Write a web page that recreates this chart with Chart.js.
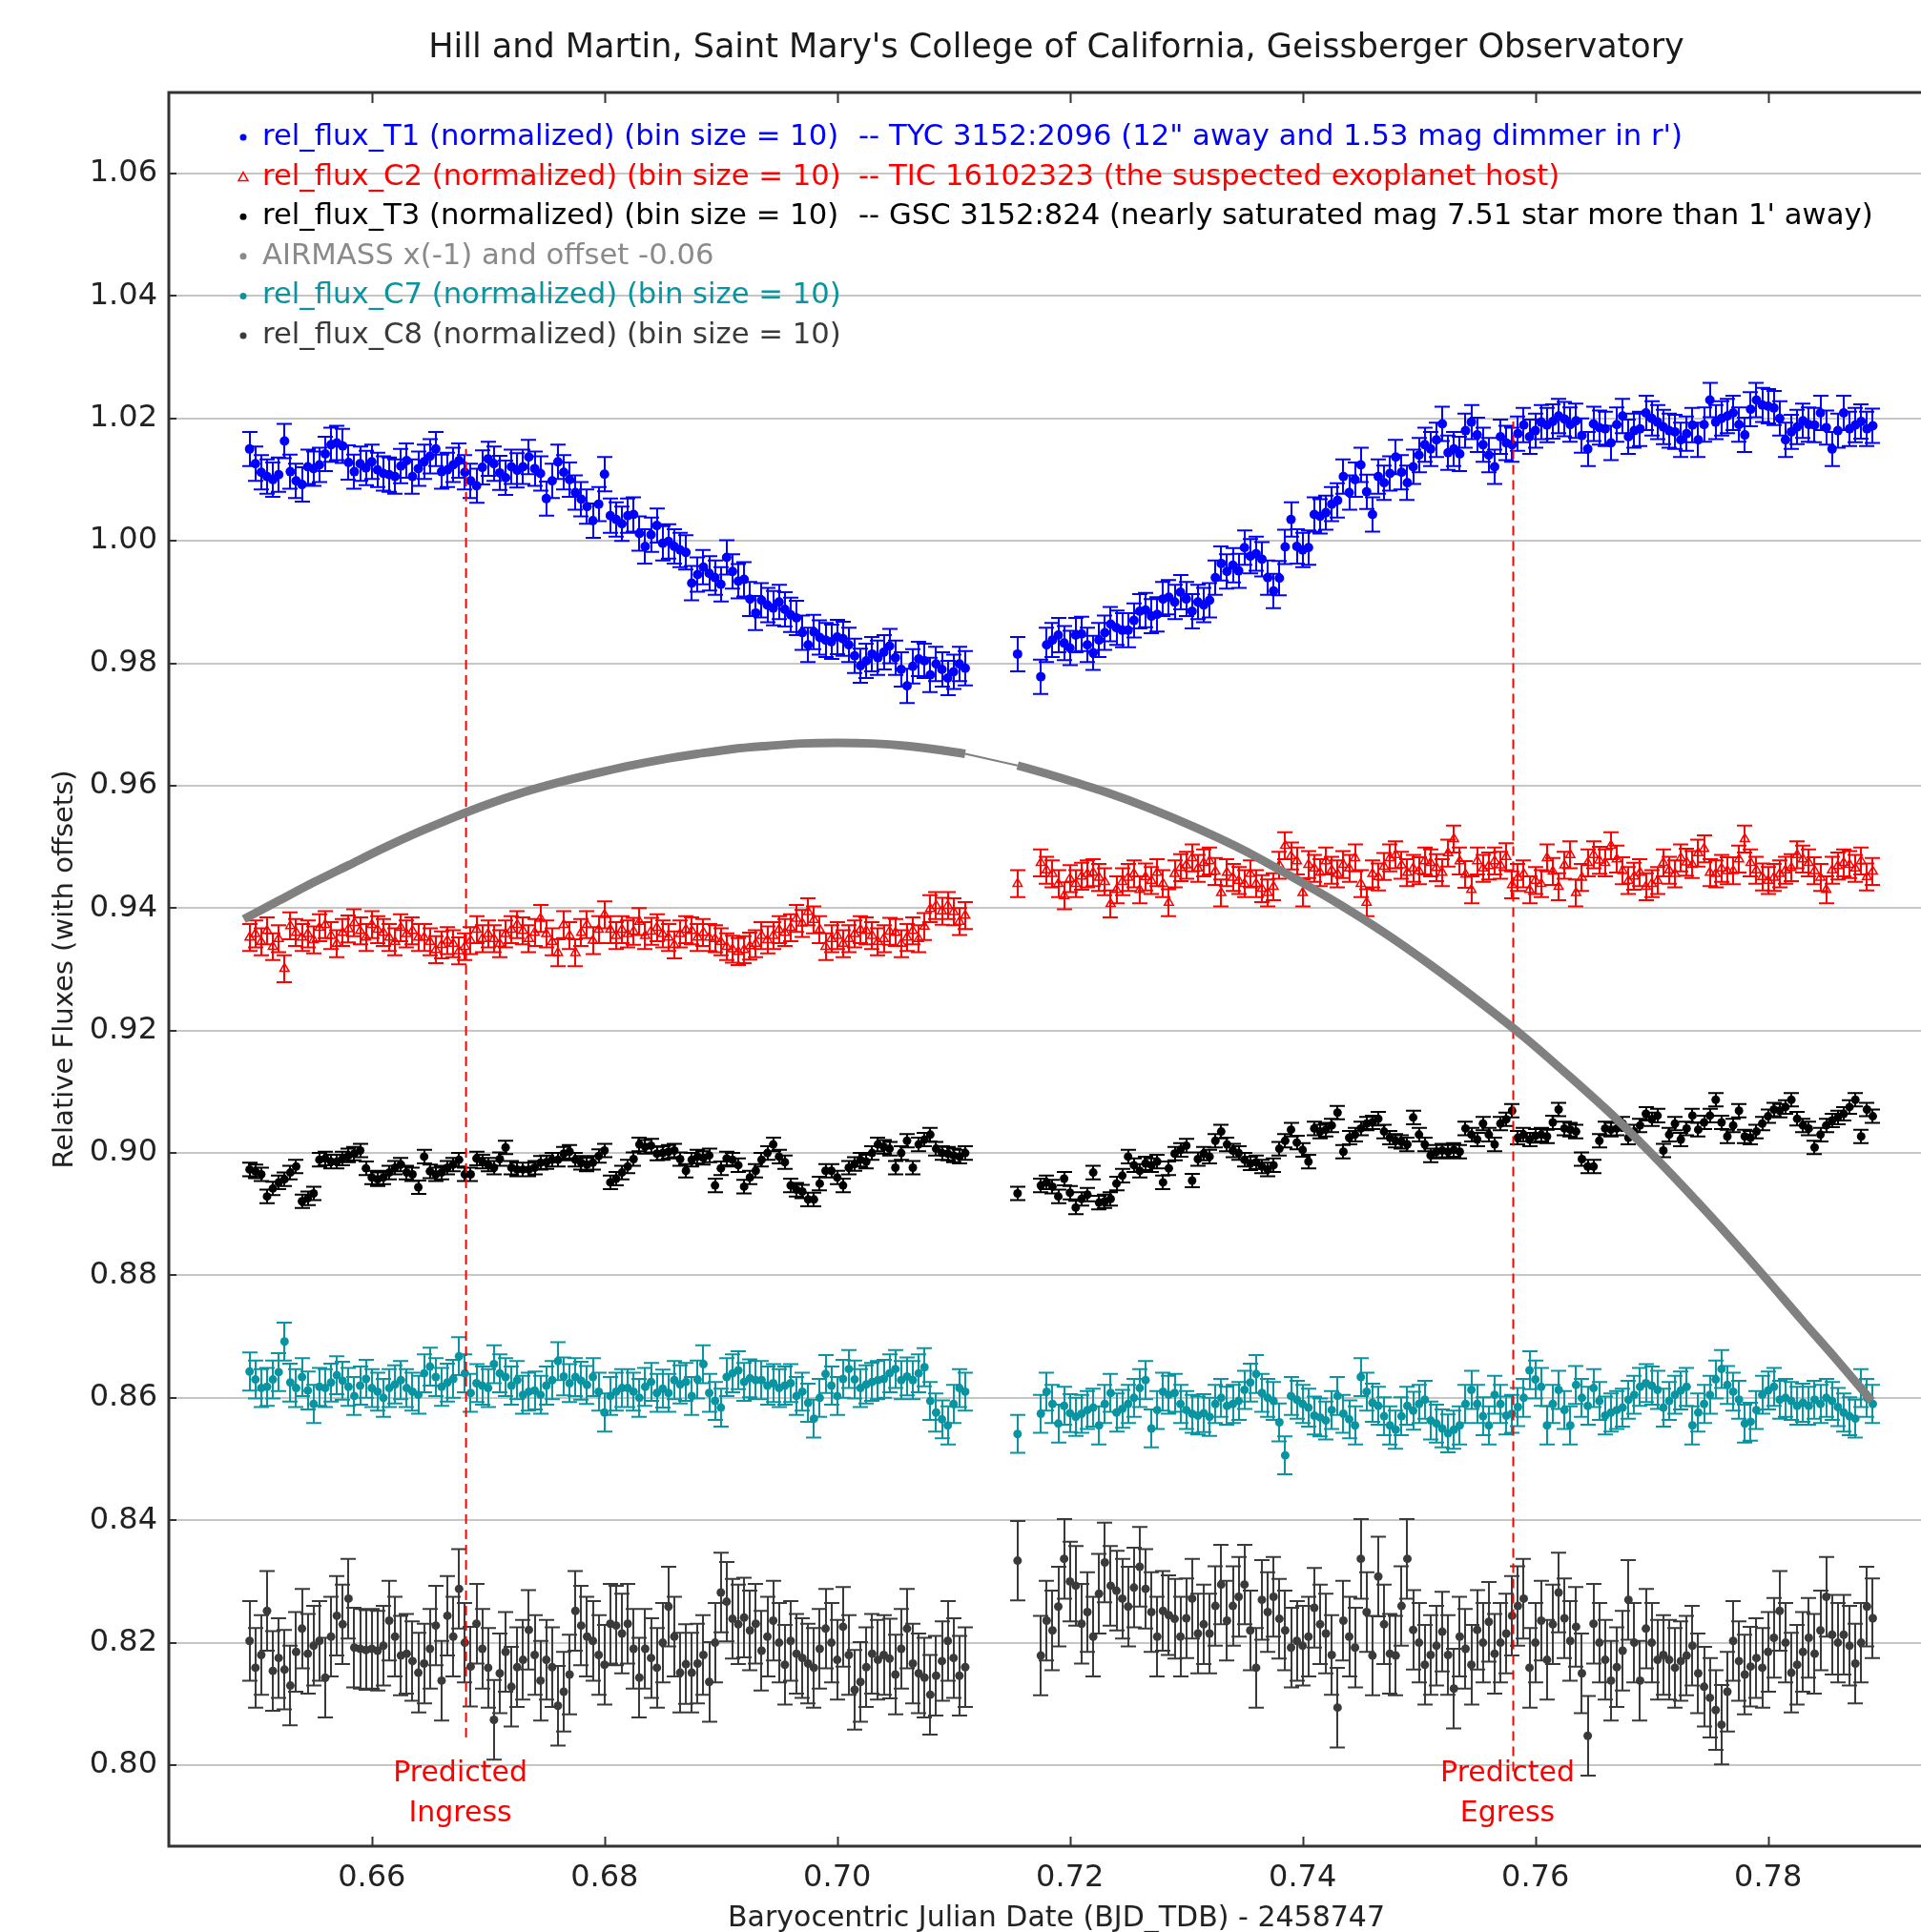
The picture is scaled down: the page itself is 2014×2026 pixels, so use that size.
<!DOCTYPE html>
<html>
<head>
<meta charset="utf-8">
<title>Light curves</title>
<script src="https://cdn.jsdelivr.net/npm/chart.js@4.4.1/dist/chart.umd.min.js"></script>
<style>
  html, body { margin: 0; padding: 0; background: #fff; overflow: hidden; }
  #wrap { width: 2014px; height: 2026px; overflow: hidden; }
  canvas { display: block; }
</style>
</head>
<body>
<div id="wrap"><canvas id="lc" width="2045" height="2026"></canvas></div>
<script>
// bin times, BJD_TDB - 2458747 (first run, then second run after the break)
const times = [
  0.6495,0.65,0.6505,0.651,0.6515,0.652,0.6525,0.653,0.6535,0.654,
  0.6545,0.655,0.6555,0.656,0.6565,0.657,0.6575,0.658,0.6585,0.659,
  0.6595,0.66,0.6605,0.661,0.6615,0.662,0.6625,0.663,0.6635,0.664,
  0.6645,0.665,0.6655,0.666,0.6665,0.667,0.6675,0.668,0.6685,0.669,
  0.6695,0.67,0.6705,0.671,0.6715,0.672,0.6725,0.673,0.6735,0.674,
  0.6745,0.675,0.6755,0.676,0.6765,0.677,0.6775,0.678,0.6785,0.679,
  0.6795,0.68,0.6805,0.681,0.6815,0.682,0.6825,0.683,0.6835,0.684,
  0.6845,0.685,0.6855,0.686,0.6865,0.687,0.6875,0.688,0.6885,0.689,
  0.6895,0.69,0.6905,0.691,0.6915,0.692,0.6925,0.693,0.6935,0.694,
  0.6945,0.695,0.6955,0.696,0.6965,0.697,0.6975,0.698,0.6985,0.699,
  0.6995,0.7,0.7005,0.701,0.7015,0.702,0.7025,0.703,0.7035,0.704,
  0.7045,0.705,0.7055,0.706,0.7065,0.707,0.7075,0.708,0.7085,0.709,
  0.7095,0.71,0.7105,0.711,
  // second run
  0.7155,0.716,0.7165,0.717,0.7175,0.718,0.7185,0.719,0.7195,0.72,
  0.7205,0.721,0.7215,0.722,0.7225,0.723,0.7235,0.724,0.7245,0.725,
  0.7255,0.726,0.7265,0.727,0.7275,0.728,0.7285,0.729,0.7295,0.73,
  0.7305,0.731,0.7315,0.732,0.7325,0.733,0.7335,0.734,0.7345,0.735,
  0.7355,0.736,0.7365,0.737,0.7375,0.738,0.7385,0.739,0.7395,0.74,
  0.7405,0.741,0.7415,0.742,0.7425,0.743,0.7435,0.744,0.7445,0.745,
  0.7455,0.746,0.7465,0.747,0.7475,0.748,0.7485,0.749,0.7495,0.75,
  0.7505,0.751,0.7515,0.752,0.7525,0.753,0.7535,0.754,0.7545,0.755,
  0.7555,0.756,0.7565,0.757,0.7575,0.758,0.7585,0.759,0.7595,0.76,
  0.7605,0.761,0.7615,0.762,0.7625,0.763,0.7635,0.764,0.7645,0.765,
  0.7655,0.766,0.7665,0.767,0.7675,0.768,0.7685,0.769,0.7695,0.77,
  0.7705,0.771,0.7715,0.772,0.7725,0.773,0.7735,0.774,0.7745,0.775,
  0.7755,0.776,0.7765,0.777,0.7775,0.778,0.7785,0.779,0.7795,0.78,
  0.7805,0.781,0.7815,0.782,0.7825,0.783,0.7835,0.784,0.7845,0.785,
  0.7855,0.786,0.7865,0.787,0.7875,0.788,0.7885,0.789
];

const t1Flux = [
  1.0150,1.0126,1.0112,1.0105,1.0100,1.0108,1.0163,1.0113,1.0098,1.0092,
  1.0121,1.0118,1.0124,1.0142,1.0157,1.0160,1.0155,1.0128,1.0113,1.0126,
  1.0119,1.0129,1.0116,1.0110,1.0108,1.0105,1.0122,1.0131,1.0105,1.0118,
  1.0129,1.0138,1.0150,1.0113,1.0116,1.0124,1.0131,1.0112,1.0098,1.0090,
  1.0120,1.0134,1.0126,1.0111,1.0103,1.0121,1.0115,1.0121,1.0137,1.0118,
  1.0110,1.0069,1.0098,1.0129,1.0112,1.0100,1.0079,1.0068,1.0056,1.0033,
  1.0060,1.0109,1.0041,1.0035,1.0028,1.0041,1.0043,1.0012,0.9991,1.0010,
  1.0025,0.9996,0.9999,0.9991,0.9985,0.9981,0.9931,0.9945,0.9957,0.9947,
  0.9940,0.9929,0.9973,0.9950,0.9934,0.9937,0.9905,0.9882,0.9903,0.9895,
  0.9890,0.9900,0.9888,0.9879,0.9874,0.9850,0.9830,0.9851,0.9842,0.9838,
  0.9835,0.9843,0.9840,0.9830,0.9812,0.9796,0.9804,0.9815,0.9809,0.9818,
  0.9828,0.9809,0.9790,0.9763,0.9795,0.9807,0.9804,0.9781,0.9799,0.9790,
  0.9776,0.9786,0.9799,0.9792,
  0.9815,null,null,null,0.9778,0.9830,0.9838,0.9846,0.9833,0.9825,
  0.9846,0.9848,0.9830,0.9817,0.9838,0.9850,0.9864,0.9858,0.9854,0.9854,
  0.9870,0.9885,0.9887,0.9877,0.9880,0.9905,0.9908,0.9900,0.9916,0.9905,
  0.9885,0.9900,0.9895,0.9903,0.9940,0.9963,0.9950,0.9960,0.9951,0.9989,
  0.9975,0.9979,0.9970,0.9940,0.9918,0.9939,0.9990,1.0035,0.9991,0.9985,
  0.9989,1.0043,1.0040,1.0046,1.0060,1.0066,1.0105,1.0079,1.0100,1.0124,
  1.0080,1.0043,1.0105,1.0095,1.0110,1.0137,1.0112,1.0095,1.0121,1.0140,
  1.0157,1.0150,1.0165,1.0191,1.0144,1.0150,1.0142,1.0180,1.0194,1.0173,
  1.0157,1.0140,1.0121,1.0170,1.0160,1.0157,1.0175,1.0189,1.0170,1.0180,
  1.0194,1.0189,1.0195,1.0204,1.0199,1.0190,1.0196,1.0172,1.0150,1.0191,
  1.0185,1.0183,1.0160,1.0190,1.0204,1.0170,1.0180,1.0183,1.0209,1.0200,
  1.0194,1.0186,1.0180,1.0178,1.0165,1.0175,1.0189,1.0165,1.0190,1.0230,
  1.0194,1.0200,1.0204,1.0209,1.0190,1.0173,1.0215,1.0230,1.0222,1.0220,
  1.0217,1.0200,1.0165,1.0178,1.0186,1.0196,1.0190,1.0189,1.0209,1.0185,
  1.0150,1.0180,1.0209,1.0183,1.0189,1.0195,1.0183,1.0188
];

const c2Flux = [
  0.9352,0.9358,0.9345,0.9363,0.9337,0.9350,0.9301,0.9371,0.9360,0.9352,
  0.9358,0.9348,0.9368,0.9373,0.9355,0.9342,0.9360,0.9366,0.9376,0.9363,
  0.9352,0.9373,0.9365,0.9360,0.9352,0.9345,0.9368,0.9358,0.9363,0.9352,
  0.9352,0.9345,0.9332,0.9340,0.9347,0.9342,0.9330,0.9337,0.9347,0.9365,
  0.9350,0.9358,0.9350,0.9342,0.9358,0.9365,0.9373,0.9363,0.9350,0.9360,
  0.9383,0.9358,0.9345,0.9327,0.9373,0.9355,0.9327,0.9360,0.9373,0.9347,
  0.9365,0.9389,0.9365,0.9355,0.9365,0.9358,0.9362,0.9378,0.9355,0.9362,
  0.9368,0.9358,0.9352,0.9340,0.9358,0.9365,0.9363,0.9352,0.9360,0.9352,
  0.9350,0.9345,0.9337,0.9333,0.9329,0.9332,0.9338,0.9342,0.9355,0.9348,
  0.9355,0.9365,0.9360,0.9368,0.9383,0.9375,0.9394,0.9381,0.9365,0.9337,
  0.9350,0.9355,0.9342,0.9350,0.9358,0.9365,0.9363,0.9355,0.9345,0.9350,
  0.9362,0.9360,0.9342,0.9352,0.9363,0.9350,0.9370,0.9399,0.9404,0.9395,
  0.9404,0.9394,0.9378,0.9388,
  0.9440,null,null,null,0.9474,0.9462,0.9456,0.9440,0.9420,0.9448,
  0.9440,0.9452,0.9456,0.9458,0.9450,0.9443,0.9407,0.9430,0.9443,0.9450,
  0.9456,0.9430,0.9451,0.9445,0.9458,0.9440,0.9409,0.9456,0.9466,0.9470,
  0.9482,0.9465,0.9474,0.9477,0.9460,0.9425,0.9458,0.9450,0.9445,0.9440,
  0.9456,0.9440,0.9432,0.9425,0.9435,0.9470,0.9502,0.9485,0.9477,0.9425,
  0.9471,0.9465,0.9458,0.9477,0.9462,0.9456,0.9471,0.9465,0.9482,0.9440,
  0.9409,0.9456,0.9451,0.9468,0.9482,0.9487,0.9470,0.9458,0.9465,0.9461,
  0.9477,0.9474,0.9466,0.9458,0.9490,0.9513,0.9477,0.9455,0.9430,0.9477,
  0.9465,0.9469,0.9477,0.9470,0.9484,0.9438,0.9450,0.9456,0.9430,0.9445,
  0.9440,0.9482,0.9460,0.9435,0.9470,0.9487,0.9425,0.9450,0.9474,0.9487,
  0.9478,0.9474,0.9502,0.9480,0.9461,0.9445,0.9452,0.9458,0.9435,0.9440,
  0.9445,0.9474,0.9462,0.9456,0.9482,0.9475,0.9471,0.9490,0.9497,0.9458,
  0.9456,0.9465,0.9461,0.9461,0.9480,0.9513,0.9474,0.9462,0.9451,0.9445,
  0.9450,0.9456,0.9462,0.9466,0.9487,0.9480,0.9474,0.9461,0.9450,0.9430,
  0.9462,0.9469,0.9474,0.9471,0.9465,0.9477,0.9451,0.9460
];

const t3Flux = [
  0.8973,0.8970,0.8965,0.8929,0.8942,0.8952,0.8957,0.8968,0.8978,0.8921,
  0.8926,0.8934,0.8989,0.8991,0.8986,0.8986,0.8991,0.8996,0.8999,0.9004,
  0.8975,0.8960,0.8957,0.8960,0.8968,0.8976,0.8981,0.8968,0.8965,0.8944,
  0.8994,0.8970,0.8965,0.8968,0.8976,0.8981,0.8989,0.8965,0.8965,0.8991,
  0.8986,0.8981,0.8976,0.8990,0.9009,0.8976,0.8973,0.8973,0.8973,0.8976,
  0.8984,0.8985,0.8989,0.8989,0.8999,0.9002,0.8989,0.8984,0.8981,0.8984,
  0.8995,0.9004,0.8952,0.8958,0.8968,0.8978,0.8990,0.9014,0.9010,0.9012,
  0.8999,0.9000,0.9002,0.9004,0.8990,0.8971,0.8989,0.8994,0.8992,0.8996,
  0.8947,0.8975,0.8991,0.8989,0.8980,0.8945,0.8960,0.8971,0.8989,0.9000,
  0.9014,0.8994,0.8985,0.8947,0.8940,0.8937,0.8924,0.8924,0.8950,0.8971,
  0.8971,0.8960,0.8947,0.8976,0.8982,0.8989,0.8986,0.9000,0.9014,0.9010,
  0.9007,0.8976,0.9000,0.9020,0.8976,0.9014,0.9022,0.9030,0.9007,0.9000,
  0.8999,0.8996,0.8994,0.9000,
  0.8934,null,null,null,0.8947,0.8952,0.8945,0.8929,0.8958,0.8935,
  0.8911,0.8925,0.8932,0.8968,0.8919,0.8921,0.8925,0.8950,0.8963,0.8994,
  0.8980,0.8971,0.8983,0.8980,0.8986,0.8952,0.8975,0.8999,0.9005,0.9012,
  0.8955,0.8990,0.8999,0.8994,0.9020,0.9035,0.9014,0.9004,0.9000,0.8989,
  0.8983,0.8985,0.8978,0.8973,0.8980,0.9007,0.9020,0.9038,0.9017,0.9005,
  0.8986,0.9040,0.9035,0.9038,0.9045,0.9066,0.9002,0.9025,0.9030,0.9040,
  0.9048,0.9050,0.9056,0.9035,0.9025,0.9020,0.9018,0.9014,0.9058,0.9030,
  0.9014,0.8996,0.9002,0.9004,0.9002,0.9005,0.9002,0.9040,0.9030,0.9022,
  0.9048,0.9030,0.9014,0.9048,0.9055,0.9069,0.9025,0.9030,0.9022,0.9028,
  0.9030,0.9027,0.9050,0.9071,0.9040,0.9038,0.9035,0.8990,0.8978,0.8978,
  0.9020,0.9040,0.9038,0.9040,0.9048,0.9025,0.9035,0.9045,0.9064,0.9055,
  0.9061,0.9004,0.9030,0.9048,0.9022,0.9040,0.9061,0.9038,0.9050,0.9061,
  0.9087,0.9050,0.9027,0.9045,0.9069,0.9027,0.9025,0.9035,0.9048,0.9060,
  0.9071,0.9069,0.9075,0.9087,0.9056,0.9045,0.9040,0.9009,0.9030,0.9045,
  0.9053,0.9058,0.9064,0.9075,0.9087,0.9027,0.9071,0.9060
];

const c7Flux = [
  0.8643,0.8630,0.8616,0.8618,0.8630,0.8642,0.8692,0.8625,0.8616,0.8634,
  0.8612,0.8590,0.8618,0.8616,0.8625,0.8637,0.8628,0.8618,0.8603,0.8620,
  0.8631,0.8616,0.8610,0.8600,0.8616,0.8622,0.8629,0.8616,0.8610,0.8605,
  0.8640,0.8651,0.8634,0.8618,0.8625,0.8631,0.8668,0.8640,0.8608,0.8624,
  0.8620,0.8616,0.8655,0.8640,0.8634,0.8620,0.8629,0.8605,0.8610,0.8612,
  0.8605,0.8620,0.8629,0.8660,0.8635,0.8624,0.8634,0.8628,0.8621,0.8634,
  0.8610,0.8576,0.8603,0.8610,0.8616,0.8616,0.8610,0.8600,0.8618,0.8626,
  0.8608,0.8615,0.8608,0.8629,0.8622,0.8626,0.8603,0.8630,0.8655,0.8608,
  0.8595,0.8584,0.8634,0.8640,0.8645,0.8626,0.8632,0.8629,0.8629,0.8620,
  0.8624,0.8616,0.8620,0.8624,0.8603,0.8610,0.8592,0.8566,0.8600,0.8639,
  0.8620,0.8603,0.8631,0.8647,0.8630,0.8616,0.8622,0.8626,0.8629,0.8631,
  0.8640,0.8647,0.8629,0.8635,0.8629,0.8640,0.8650,0.8595,0.8576,0.8565,
  0.8555,0.8590,0.8616,0.8610,
  0.8541,null,null,null,0.8574,0.8610,0.8590,0.8558,0.8587,0.8575,
  0.8569,0.8574,0.8580,0.8584,0.8555,0.8590,0.8608,0.8576,0.8582,0.8590,
  0.8600,0.8616,0.8629,0.8550,0.8580,0.8610,0.8605,0.8608,0.8590,0.8580,
  0.8574,0.8571,0.8575,0.8569,0.8590,0.8600,0.8587,0.8590,0.8595,0.8613,
  0.8625,0.8639,0.8608,0.8600,0.8595,0.8560,0.8506,0.8603,0.8597,0.8590,
  0.8584,0.8571,0.8568,0.8563,0.8580,0.8603,0.8574,0.8565,0.8555,0.8634,
  0.8610,0.8592,0.8587,0.8570,0.8555,0.8548,0.8570,0.8587,0.8579,0.8590,
  0.8597,0.8563,0.8558,0.8550,0.8542,0.8548,0.8555,0.8590,0.8613,0.8590,
  0.8570,0.8555,0.8605,0.8590,0.8571,0.8574,0.8585,0.8600,0.8645,0.8630,
  0.8618,0.8555,0.8590,0.8613,0.8580,0.8555,0.8621,0.8600,0.8587,0.8616,
  0.8595,0.8571,0.8576,0.8580,0.8584,0.8597,0.8605,0.8618,0.8624,0.8620,
  0.8613,0.8584,0.8595,0.8605,0.8612,0.8618,0.8555,0.8576,0.8590,0.8605,
  0.8630,0.8647,0.8621,0.8610,0.8597,0.8558,0.8561,0.8580,0.8605,0.8612,
  0.8618,0.8597,0.8600,0.8595,0.8587,0.8592,0.8587,0.8597,0.8590,0.8600,
  0.8595,0.8585,0.8576,0.8570,0.8566,0.8616,0.8600,0.8590
];

const c8Flux = [
  0.8203,0.8159,0.8180,0.8252,0.8154,0.8175,0.8156,0.8130,0.8185,0.8223,
  0.8182,0.8195,0.8203,0.8143,0.8210,0.8244,0.8230,0.8272,0.8192,0.8190,
  0.8188,0.8190,0.8187,0.8195,0.8236,0.8210,0.8179,0.8182,0.8170,0.8151,
  0.8166,0.8190,0.8228,0.8138,0.8244,0.8210,0.8288,0.8200,0.8161,0.8231,
  0.8190,0.8159,0.8074,0.8150,0.8185,0.8128,0.8160,0.8172,0.8221,0.8180,
  0.8138,0.8172,0.8160,0.8097,0.8120,0.8148,0.8252,0.8228,0.8210,0.8203,
  0.8180,0.8164,0.8231,0.8228,0.8215,0.8231,0.8190,0.8143,0.8190,0.8175,
  0.8159,0.8200,0.8259,0.8210,0.8151,0.8165,0.8151,0.8166,0.8180,0.8136,
  0.8200,0.8282,0.8267,0.8239,0.8230,0.8241,0.8220,0.8231,0.8187,0.8210,
  0.8236,0.8200,0.8164,0.8203,0.8182,0.8175,0.8166,0.8159,0.8190,0.8223,
  0.8200,0.8172,0.8226,0.8180,0.8123,0.8136,0.8160,0.8182,0.8172,0.8180,
  0.8174,0.8148,0.8190,0.8223,0.8166,0.8150,0.8143,0.8115,0.8146,0.8170,
  0.8203,0.8175,0.8146,0.8160,
  0.8334,null,null,null,0.8179,0.8236,0.8220,0.8259,0.8337,0.8300,
  0.8293,0.8231,0.8250,0.8210,0.8280,0.8331,0.8293,0.8285,0.8272,0.8259,
  0.8290,0.8324,0.8288,0.8250,0.8210,0.8252,0.8245,0.8239,0.8210,0.8240,
  0.8272,0.8215,0.8230,0.8215,0.8260,0.8295,0.8236,0.8260,0.8275,0.8295,
  0.8220,0.8159,0.8270,0.8250,0.8275,0.8239,0.8220,0.8192,0.8203,0.8195,
  0.8210,0.8257,0.8230,0.8215,0.8180,0.8094,0.8236,0.8210,0.8192,0.8337,
  0.8250,0.8179,0.8308,0.8230,0.8182,0.8179,0.8260,0.8337,0.8221,0.8200,
  0.8164,0.8180,0.8195,0.8218,0.8180,0.8125,0.8210,0.8190,0.8164,0.8221,
  0.8200,0.8234,0.8182,0.8200,0.8215,0.8244,0.8260,0.8272,0.8159,0.8200,
  0.8236,0.8172,0.8230,0.8282,0.8240,0.8203,0.8226,0.8150,0.8048,0.8231,
  0.8200,0.8172,0.8138,0.8160,0.8187,0.8270,0.8200,0.8138,0.8223,0.8200,
  0.8172,0.8180,0.8172,0.8159,0.8170,0.8179,0.8195,0.8150,0.8128,0.8110,
  0.8090,0.8066,0.8120,0.8203,0.8170,0.8148,0.8161,0.8175,0.8159,0.8185,
  0.8208,0.8252,0.8200,0.8151,0.8164,0.8185,0.8208,0.8182,0.8220,0.8275,
  0.8213,0.8200,0.8213,0.8195,0.8166,0.8200,0.8259,0.8240
];

// typical 1-sigma error of one bin, per series
const t1Err = 0.0028, c2Err = 0.0022, t3Err = 0.0011, c7Err = 0.0031, c8Err = 0.0065;

// airmass curve (x -1, offset -0.06), first and second run
const airX1 = [0.649,0.652,0.655,0.658,0.661,0.664,0.667,0.670,0.673,0.676,0.679,
               0.682,0.685,0.688,0.691,0.694,0.697,0.700,0.703,0.706,0.709,0.711];
const airY1 = [0.9382,0.9412,0.9442,0.9470,0.9498,0.9524,0.9548,0.9570,0.9589,0.9605,0.9619,
               0.9632,0.9643,0.9652,0.9660,0.9665,0.9669,0.9670,0.9669,0.9665,0.9658,0.9652];
const airX2 = [0.7155,0.719,0.723,0.727,0.731,0.735,0.739,0.743,0.747,0.751,
               0.755,0.759,0.763,0.767,0.771,0.775,0.779,0.783,0.786,0.7889];
const airY2 = [0.9633,0.9614,0.9590,0.9562,0.9530,0.9494,0.9452,0.9408,0.9360,0.9307,
               0.9250,0.9190,0.9124,0.9055,0.8979,0.8898,0.8813,0.8725,0.8660,0.8595];

// predicted ingress / egress
const ingressX = 0.6681, ingressSpan = [0.8045, 1.0150];
const egressX = 0.7581, egressSpan = [0.7990, 1.0195];

const xTicks = [0.66, 0.68, 0.70, 0.72, 0.74, 0.76, 0.78];
const yTicks = [0.80, 0.82, 0.84, 0.86, 0.88, 0.90, 0.92, 0.94, 0.96, 0.98, 1.00, 1.02, 1.04, 1.06];

const legendRows = [
  ["rel_flux_T1 (normalized) (bin size = 10)", "-- TYC 3152:2096 (12\" away and 1.53 mag dimmer in r')", "#0000ff", "dot"],
  ["rel_flux_C2 (normalized) (bin size = 10)", "-- TIC 16102323 (the suspected exoplanet host)", "#ff0000", "tri"],
  ["rel_flux_T3 (normalized) (bin size = 10)", "-- GSC 3152:824 (nearly saturated mag 7.51 star more than 1' away)", "#000000", "dot"],
  ["AIRMASS x(-1) and offset -0.06", "", "#8a8a8a", "dot"],
  ["rel_flux_C7 (normalized) (bin size = 10)", "", "#0894a0", "dot"],
  ["rel_flux_C8 (normalized) (bin size = 10)", "", "#3a3a3a", "dot"]
];

function pts(vals) {
  const out = [];
  vals.forEach((v, i) => { if (v !== null) out.push({ x: times[i], y: v }); });
  return out;
}
function xy(xs, ys) { return xs.map((x, i) => ({ x: x, y: ys[i] })); }

const FONT = '"DejaVu Sans", "Liberation Sans", sans-serif';
Chart.defaults.font.family = FONT;
Chart.defaults.color = "#222";

// vertical error bars under the markers
const errorBars = {
  id: "errorBars",
  beforeDatasetsDraw(chart) {
    const { ctx, chartArea, scales } = chart;
    ctx.save();
    ctx.beginPath();
    ctx.rect(chartArea.left, chartArea.top, chartArea.right - chartArea.left, chartArea.bottom - chartArea.top);
    ctx.clip();
    chart.data.datasets.forEach((ds) => {
      if (!ds.errBar) return;
      ctx.strokeStyle = ds.borderColor;
      ctx.lineWidth = 2;
      ctx.beginPath();
      ds.data.forEach((p) => {
        const x = Math.round(scales.x.getPixelForValue(p.x));
        const y1 = scales.y.getPixelForValue(p.y + ds.errBar);
        const y2 = scales.y.getPixelForValue(p.y - ds.errBar);
        ctx.moveTo(x, y1); ctx.lineTo(x, y2);
        ctx.moveTo(x - 8, y1); ctx.lineTo(x + 8, y1);
        ctx.moveTo(x - 8, y2); ctx.lineTo(x + 8, y2);
      });
      ctx.stroke();
    });
    ctx.restore();
  }
};

// title, frame, inward ticks, legend and the ingress / egress labels
const decor = {
  id: "decor",
  afterDraw(chart) {
    const { ctx, chartArea: a, scales } = chart;
    ctx.save();
    ctx.fillStyle = "#1a1a1a";
    ctx.font = "35px " + FONT;
    ctx.textAlign = "center";
    ctx.textBaseline = "middle";
    ctx.fillText("Hill and Martin, Saint Mary's College of California, Geissberger Observatory", (a.left + a.right) / 2, 51);

    ctx.strokeStyle = "#333";
    ctx.lineWidth = 2;
    ctx.beginPath();
    xTicks.forEach((v) => {
      const x = Math.round(scales.x.getPixelForValue(v)) + 0.5;
      ctx.moveTo(x, a.top); ctx.lineTo(x, a.top + 11);
      ctx.moveTo(x, a.bottom); ctx.lineTo(x, a.bottom - 10);
    });
    yTicks.forEach((v) => {
      const y = Math.round(scales.y.getPixelForValue(v));
      ctx.moveTo(a.left, y); ctx.lineTo(a.left + 8, y);
    });
    ctx.stroke();

    ctx.lineWidth = 3;
    ctx.beginPath();
    ctx.moveTo(a.right + 10, a.top); ctx.lineTo(a.left, a.top);
    ctx.lineTo(a.left, a.bottom); ctx.lineTo(a.right + 10, a.bottom);
    ctx.stroke();

    ctx.font = "30.7px " + FONT;
    ctx.textAlign = "left";
    legendRows.forEach((row, i) => {
      const y = a.top + 47 + i * 41.6;
      const mx = a.left + 78;
      ctx.fillStyle = row[2];
      ctx.strokeStyle = row[2];
      if (row[3] === "tri") {
        ctx.lineWidth = 1.5;
        ctx.beginPath();
        ctx.moveTo(mx, y - 5); ctx.lineTo(mx + 5, y + 4); ctx.lineTo(mx - 5, y + 4); ctx.closePath();
        ctx.stroke();
      } else {
        ctx.beginPath(); ctx.arc(mx, y, 3.5, 0, Math.PI * 2); ctx.fill();
      }
      ctx.fillText(row[0], a.left + 98, y);
      if (row[1]) ctx.fillText(row[1], a.left + 723, y);
    });

    ctx.font = "30px " + FONT;
    ctx.fillStyle = "#ff0000";
    ctx.textAlign = "center";
    [[ingressX, "Ingress"], [egressX, "Egress"]].forEach(([v, word]) => {
      const x = scales.x.getPixelForValue(v) - 6;
      ctx.fillText("Predicted", x, a.bottom - 76);
      ctx.fillText(word, x, a.bottom - 34);
    });
    ctx.restore();
  }
};

function series(label, vals, color, err, extra) {
  return Object.assign({
    type: "scatter",
    label: label,
    data: pts(vals),
    borderColor: color,
    backgroundColor: color,
    pointRadius: 4.5,
    pointBorderWidth: 0,
    errBar: err,
    order: 3
  }, extra || {});
}

new Chart(document.getElementById("lc"), {
  data: {
    datasets: [
      {
        type: "line", label: "AIRMASS x(-1) and offset -0.06", data: xy(airX1, airY1),
        borderColor: "#808080", borderWidth: 9, pointRadius: 0, tension: 0.3, order: 0
      },
      {
        type: "line", label: "airmass bridge",
        data: [{ x: airX1[airX1.length - 1], y: airY1[airY1.length - 1] }, { x: airX2[0], y: airY2[0] }],
        borderColor: "#808080", borderWidth: 2, pointRadius: 0, order: 0
      },
      {
        type: "line", label: "AIRMASS run 2", data: xy(airX2, airY2),
        borderColor: "#808080", borderWidth: 9, pointRadius: 0, tension: 0.3, order: 0
      },
      {
        type: "line", label: "Predicted Ingress",
        data: [{ x: ingressX, y: ingressSpan[0] }, { x: ingressX, y: ingressSpan[1] }],
        borderColor: "#ff0000", borderWidth: 2, borderDash: [10, 6], pointRadius: 0, order: 1
      },
      {
        type: "line", label: "Predicted Egress",
        data: [{ x: egressX, y: egressSpan[0] }, { x: egressX, y: egressSpan[1] }],
        borderColor: "#ff0000", borderWidth: 2, borderDash: [10, 6], pointRadius: 0, order: 1
      },
      series("rel_flux_T1", t1Flux, "#0000ff", t1Err, { pointRadius: 5 }),
      series("rel_flux_C2", c2Flux, "#ff0000", c2Err, {
        pointStyle: "triangle", pointRadius: 5.5, pointBorderWidth: 1.5, backgroundColor: "rgba(255,255,255,0)"
      }),
      series("rel_flux_T3", t3Flux, "#000000", t3Err),
      series("rel_flux_C7", c7Flux, "#0894a0", c7Err),
      series("rel_flux_C8", c8Flux, "#3a3a3a", c8Err)
    ]
  },
  options: {
    responsive: false,
    animation: false,
    devicePixelRatio: 1,
    layout: { padding: { top: 97, right: 5, bottom: 0, left: 0 } },
    plugins: { legend: { display: false }, tooltip: { enabled: false }, title: { display: false } },
    scales: {
      x: {
        type: "linear",
        min: 0.642558,
        max: 0.79511,
        afterBuildTicks: (s) => { s.ticks = xTicks.map((v) => ({ value: v })); },
        afterFit: (s) => { s.height = 90; },
        grid: { display: false },
        border: { display: false },
        ticks: { font: { size: 32 }, color: "#222", padding: 6, maxRotation: 0, autoSkip: false,
                 callback: (v) => Number(v).toFixed(2) },
        title: { display: true, text: "Baryocentric Julian Date (BJD_TDB) - 2458747",
                 font: { size: 30 }, color: "#222", padding: { top: 0, bottom: -4 } }
      },
      y: {
        type: "linear",
        min: 0.78676,
        max: 1.07324,
        afterBuildTicks: (s) => { s.ticks = yTicks.map((v) => ({ value: v })); },
        afterFit: (s) => { s.width = 177; },
        grid: { color: "#c6c6c6", lineWidth: 2, drawTicks: false },
        border: { display: false },
        ticks: { font: { size: 32 }, color: "#222", padding: 12, autoSkip: false,
                 callback: (v) => Number(v).toFixed(2) },
        title: { display: true, text: "Relative Fluxes (with offsets)",
                 font: { size: 29 }, color: "#222", padding: { top: 51, bottom: 0 } }
      }
    }
  },
  plugins: [errorBars, decor]
});
</script>
</body>
</html>
